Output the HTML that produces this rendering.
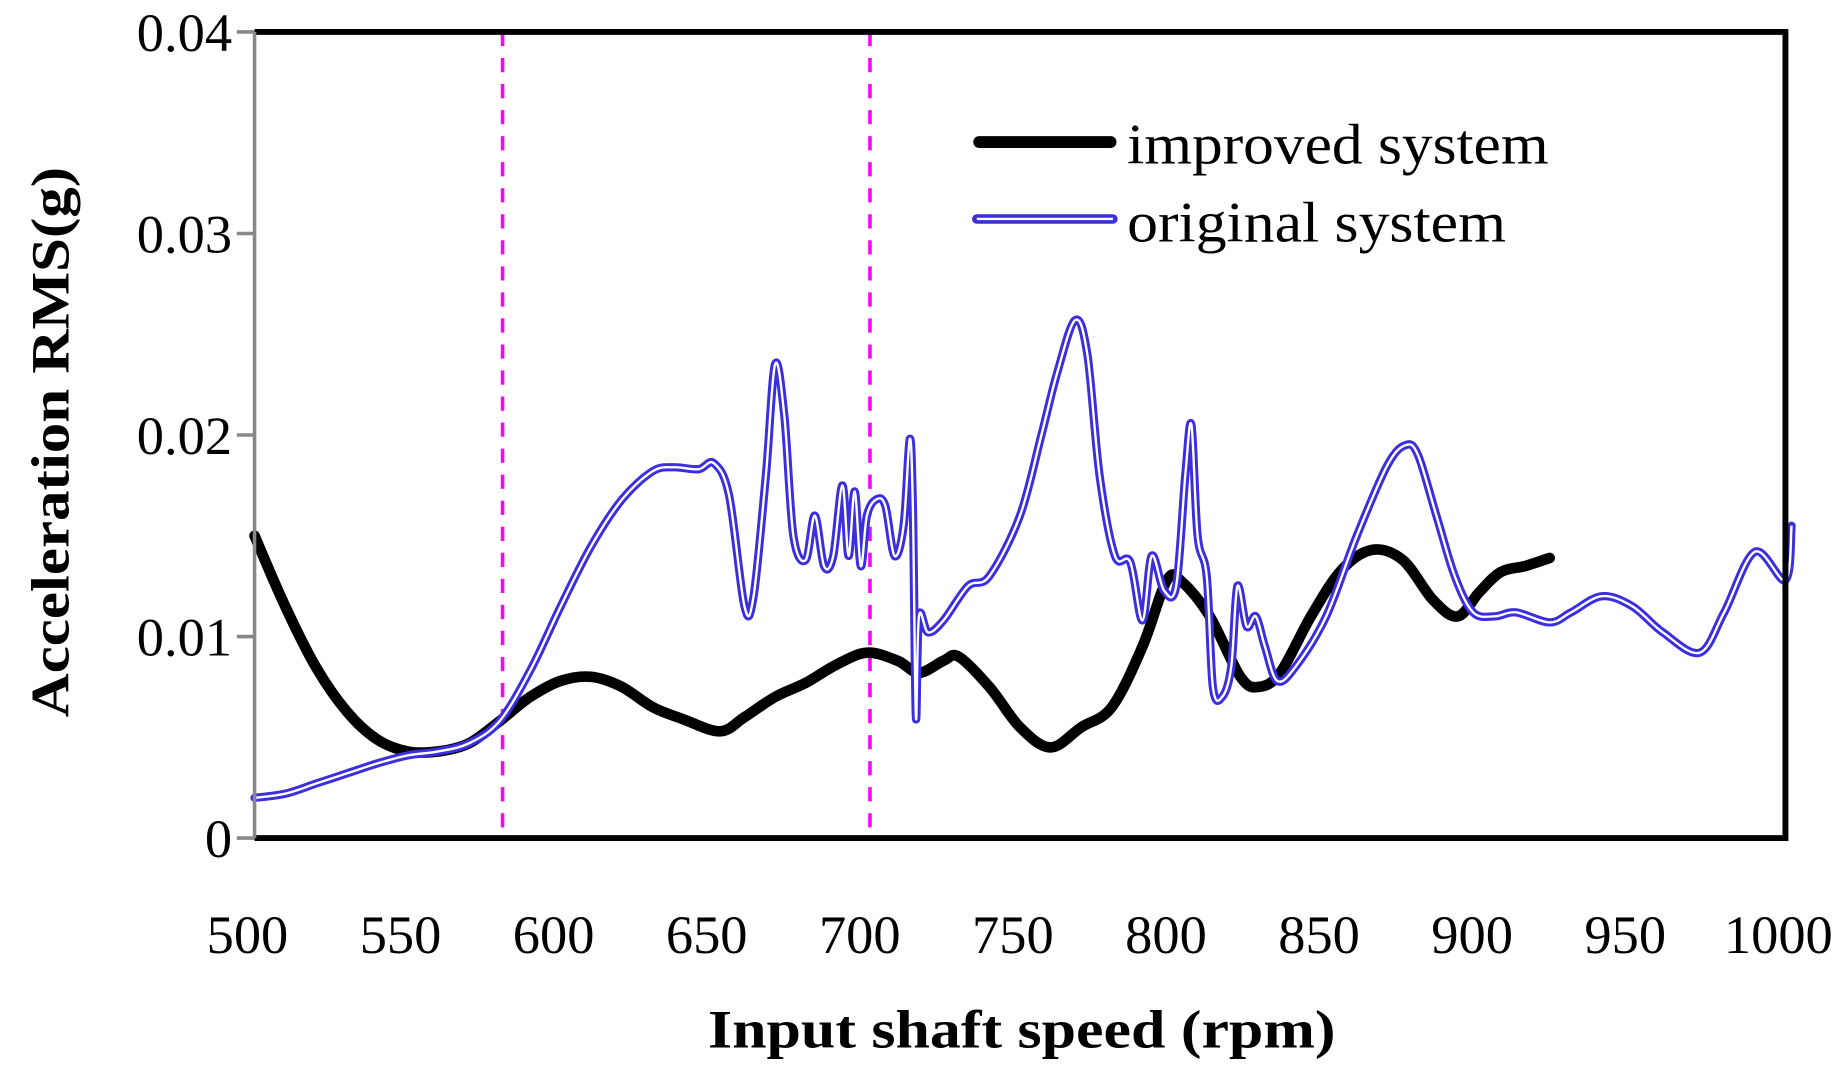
<!DOCTYPE html>
<html><head><meta charset="utf-8"><style>
html,body{margin:0;padding:0;background:#fff;}
svg{display:block;}
text{font-family:"Liberation Serif","Times New Roman",serif;fill:#000;}
</style></head><body>
<svg id="chart" width="1847" height="1076" viewBox="0 0 1560 909" preserveAspectRatio="none" xmlns="http://www.w3.org/2000/svg">
<g id="grid"></g>
<g id="series"></g>
<g id="axes"></g>
</svg>
<script>
const xTicks=[500,550,600,650,700,750,800,850,900,950,1000];
const yTicks=[0,0.01,0.02,0.03,0.04];
const yTickLabels=["0","0.01","0.02","0.03","0.04"];
const markerLines=[581,701];
const improvedX=[500,510,520,530,540,550,560,570,580,590,600,610,620,630,640,652,660,670,680,690,700,710,717,725,730,740,750,760,770,780,790,798,803,812,822,828,835,845,855,865,875,885,893,900,907,915,923];
const improvedY=[0.015,0.0115,0.0085,0.0063,0.0049,0.0043,0.0043,0.0047,0.0058,0.007,0.0078,0.008,0.0075,0.0065,0.0059,0.0053,0.006,0.007,0.0077,0.0086,0.0092,0.0088,0.0082,0.0088,0.009,0.0075,0.0055,0.0045,0.0055,0.0065,0.0095,0.0128,0.0127,0.011,0.008,0.0075,0.0082,0.011,0.0133,0.0143,0.0138,0.0118,0.011,0.0122,0.0132,0.0135,0.0139];
const originalX=[500,510,520,530,540,550,560,570,580,590,600,610,620,630,637,645,650,655,660,663,667,670,673,676,680,683,686,689,692,694,696,698,700,703,706,709,712,714,715,716,717,720,725,733,740,750,757,762,768,772,776,781,786,790,793,797,801,804,806,808,811,813,816,819,821,824,827,830,834,840,850,860,870,876,880,886,892,898,905,912,923,930,940,950,960,972,980,990,1000,1002];
const originalY=[0.002,0.0022,0.0027,0.0032,0.0037,0.0041,0.0043,0.0047,0.0058,0.0083,0.0115,0.0145,0.0168,0.0182,0.0184,0.0183,0.0186,0.017,0.0115,0.012,0.018,0.0235,0.021,0.015,0.0138,0.016,0.0135,0.014,0.0175,0.014,0.0172,0.0135,0.016,0.0168,0.0165,0.014,0.0155,0.0198,0.0165,0.006,0.011,0.0102,0.0108,0.0125,0.013,0.016,0.02,0.023,0.0257,0.024,0.018,0.014,0.0137,0.0108,0.014,0.0123,0.0125,0.018,0.0205,0.015,0.013,0.0075,0.007,0.0085,0.0125,0.0105,0.011,0.0095,0.0078,0.0085,0.011,0.015,0.0185,0.0195,0.019,0.016,0.013,0.0112,0.011,0.0112,0.0107,0.0112,0.012,0.0115,0.0102,0.0092,0.0112,0.0142,0.0128,0.0155];

const NS="http://www.w3.org/2000/svg";
const L=215,R=1508,T=27,B=708;
const sx=v=>L+(v-500)/500*(R-L);
const sy=v=>B-(v/0.04)*(B-T);
function mk(tag,parent,attrs){const e=document.createElementNS(NS,tag);for(const k in attrs)e.setAttribute(k,attrs[k]);parent.appendChild(e);return e;}
function smoothPath(xs,ys){
  const p=xs.map((x,i)=>[sx(x),sy(ys[i])]);
  let d="M"+p[0][0].toFixed(1)+","+p[0][1].toFixed(1);
  for(let i=0;i<p.length-1;i++){
    const p0=p[i-1]||p[i],p1=p[i],p2=p[i+1],p3=p[i+2]||p2;
    const c1=[p1[0]+(p2[0]-p0[0])/6,p1[1]+(p2[1]-p0[1])/6];
    const c2=[p2[0]-(p3[0]-p1[0])/6,p2[1]-(p3[1]-p1[1])/6];
    d+=" C"+c1[0].toFixed(1)+","+c1[1].toFixed(1)+" "+c2[0].toFixed(1)+","+c2[1].toFixed(1)+" "+p2[0].toFixed(1)+","+p2[1].toFixed(1);
  }
  return d;
}
const grid=document.getElementById('grid'),series=document.getElementById('series'),axes=document.getElementById('axes');

markerLines.forEach(v=>{
  const l=mk('line',grid,{x1:sx(v),x2:sx(v),y1:T,y2:B,stroke:'#ff00ff','stroke-width':3,'stroke-dasharray':'12,10'});
  
  
});

const imp=mk('path',series,{d:smoothPath(improvedX,improvedY),fill:'none',stroke:'#000','stroke-width':9,'stroke-linejoin':'round','stroke-linecap':'round'});


const od=smoothPath(originalX,originalY);
const o1=mk('path',series,{d:od,fill:'none',stroke:'#3a2ee0','stroke-width':7,'stroke-linejoin':'round','stroke-linecap':'round'});


const o2=mk('path',series,{d:od,fill:'none',stroke:'#fff','stroke-width':2,'stroke-linejoin':'round'});



const fr=mk('path',axes,{d:`M${L},${T} H${R} V${B} H${L}`,fill:'none',stroke:'#000','stroke-width':5});


const ya=mk('line',axes,{x1:L,x2:L,y1:T,y2:B,stroke:'#888','stroke-width':3});



yTicks.forEach((v,i)=>{
  const t=mk('line',axes,{x1:L-15,x2:L,y1:sy(v),y2:sy(v),stroke:'#888','stroke-width':3});
  
  
  const tx=mk('text',axes,{x:196,y:sy(v)+16,'text-anchor':'end','font-size':46});
  tx.textContent=yTickLabels[i];
  
  
});
xTicks.forEach(v=>{
  const tx=mk('text',axes,{x:sx(v)-6,y:805,'text-anchor':'middle','font-size':46});
  tx.textContent=String(v);
  
  
});

const xt=mk('text',axes,{x:598,y:885,'font-size':46,'font-weight':'bold',textLength:530,lengthAdjust:'spacingAndGlyphs'});
xt.textContent='Input shaft speed (rpm)';


const yt=mk('text',axes,{x:0,y:0,'font-size':46,'font-weight':'bold',textLength:465,lengthAdjust:'spacingAndGlyphs',transform:'translate(58,606) rotate(-90)'});
yt.textContent='Acceleration RMS(g)';



const lg=mk('g',axes,{});


const l1=mk('line',lg,{x1:827,x2:938,y1:120,y2:120,stroke:'#000','stroke-width':10,'stroke-linecap':'round'});


const t1=mk('text',lg,{x:952,y:138,'font-size':48,textLength:356,lengthAdjust:'spacingAndGlyphs'});
t1.textContent='improved system';


const l2=mk('line',lg,{x1:825,x2:940,y1:185,y2:185,stroke:'#3a2ee0','stroke-width':8,'stroke-linecap':'round'});


const l3=mk('line',lg,{x1:825,x2:940,y1:185,y2:185,stroke:'#fff','stroke-width':2});


const t2=mk('text',lg,{x:952,y:204,'font-size':48,textLength:320,lengthAdjust:'spacingAndGlyphs'});
t2.textContent='original system';


</script>
</body></html>
